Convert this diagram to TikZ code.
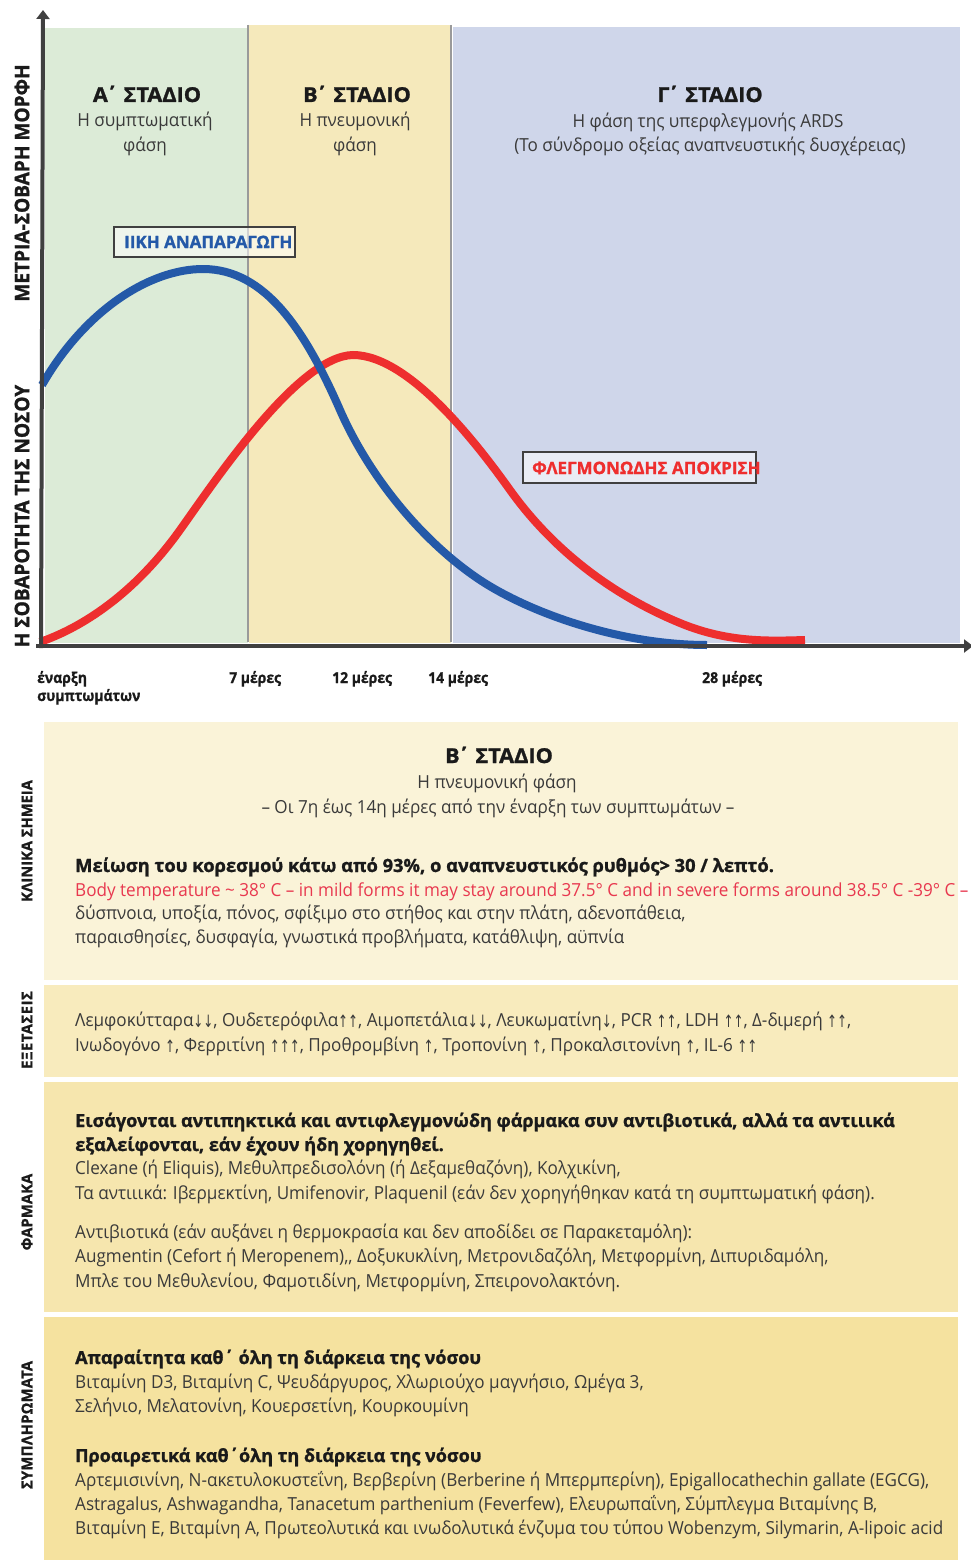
\documentclass[tikz,border=0pt]{standalone}
\usepackage{fontspec}
\setmainfont{Open Sans}
\newfontfamily\reg{Open Sans}[FakeStretch=0.95]
\newfontfamily\blk{Open Sans}[FakeStretch=1.0, BoldFeatures={FakeBold=1.2}]
\newfontfamily\hdb{Open Sans}[FakeStretch=1.06, BoldFeatures={FakeBold=1.2}]
\newfontfamily\wideblk{Open Sans}[FakeStretch=0.955, BoldFeatures={FakeBold=1.2}]
\newfontfamily\sideblk{Open Sans}[FakeStretch=0.98, BoldFeatures={FakeBold=1}]
\newfontfamily\xlb{Open Sans}[FakeStretch=0.93, BoldFeatures={FakeBold=1}]
\newfontfamily\arrowfont{DejaVu Sans}[FakeStretch=0.7]
\usetikzlibrary{arrows.meta}
\definecolor{bandgreen}{HTML}{DCEBD7}
\definecolor{bandyellow}{HTML}{F5E9BB}
\definecolor{bandblue}{HTML}{CFD6EA}
\definecolor{panelA}{HTML}{FAF3D8}
\definecolor{panelB}{HTML}{F8EBBD}
\definecolor{panelC}{HTML}{F6E6AE}
\definecolor{panelD}{HTML}{F5E29F}
\definecolor{axisgray}{HTML}{404040}
\definecolor{txtgray}{HTML}{3A3A3A}
\definecolor{txtdark}{HTML}{1A1A1A}
\definecolor{curveblue}{HTML}{2459A8}
\definecolor{curvered}{HTML}{EE2E2E}
\definecolor{pinkred}{HTML}{E8384F}
\definecolor{divgray}{HTML}{9A9A9A}
\newcommand{\myup}{\raisebox{-1.5pt}{\arrowfont\fontsize{17}{17}\selectfont ↑}}
\newcommand{\mydn}{\raisebox{-1.5pt}{\arrowfont\fontsize{17}{17}\selectfont ↓}}
\newcommand{\tns}{\kern-2.5pt΄}
\tikzset{
  body/.style={anchor=base west, inner sep=0pt, text=txtgray, font=\reg\fontsize{18}{20}\selectfont},
  boldl/.style={anchor=base west, inner sep=0pt, text=txtdark, font=\blk\bfseries\fontsize{18.3}{20}\selectfont},
  boldc/.style={anchor=base west, inner sep=0pt, text=txtdark, font=\blk\bfseries\fontsize{18}{20}\selectfont},
  headt/.style={anchor=base, inner sep=0pt, text=txtdark, font=\hdb\bfseries\fontsize{20.5}{22}\selectfont},
  heads/.style={anchor=base, inner sep=0pt, text=txtgray, font=\reg\fontsize{18}{20}\selectfont},
  xlab/.style={anchor=base west, inner sep=0pt, text=txtdark, font=\xlb\bfseries\fontsize{15}{16}\selectfont},
  ylab/.style={rotate=90, inner sep=0pt, text=txtdark, font=\wideblk\bfseries\fontsize{20}{22}\selectfont},
  sidelab/.style={rotate=90, inner sep=0pt, text=txtdark, font=\sideblk\bfseries\fontsize{15}{17}\selectfont},
  curve/.style={line width=8pt, line cap=butt},
  labbox/.style={draw=axisgray, line width=1.8pt, fill=white, fill opacity=0.55, inner sep=0pt},
  labtxt/.style={anchor=base west, inner sep=0pt, font=\blk\bfseries\fontsize{17}{19}\selectfont},
}
\begin{document}
\begin{tikzpicture}[x=1pt,y=-1pt]
\useasboundingbox (0,0) rectangle (971,1560);
\fill[white] (0,0) rectangle (971,1560);
% bands
\fill[bandgreen] (45,28) rectangle (248,643);
\fill[bandyellow] (249,25) rectangle (451,643);
\fill[bandblue] (453,27) rectangle (960,643);
\draw[divgray, line width=1.2pt] (248,25) -- (248,642);
\draw[divgray, line width=1.2pt] (451,25) -- (451,642);
% headings
\node[headt] (hA) at (147,102) {Α\tns{} ΣΤΑΔΙΟ};
\node[heads] (hA1) at (145,127) {Η συμπτωματική};
\node[heads] (hA2) at (145,151) {φάση};
\node[headt] (hB) at (357,102) {Β\tns{} ΣΤΑΔΙΟ};
\node[heads] (hB1) at (355,127) {Η πνευμονική};
\node[heads] (hB2) at (355,151) {φάση};
\node[headt] (hC) at (710,102) {Γ\tns{} ΣΤΑΔΙΟ};
\node[heads] (hC1) at (708,128) {Η φάση της υπερφλεγμονής ARDS};
\node[heads] (hC2) at (710,151) {(Το σύνδρομο οξείας αναπνευστικής δυσχέρειας)};
% curves
\draw[curve, curvered] (40,642) .. controls (75,630) and (130,600) .. (180,530)
  .. controls (215,481) and (298,356) .. (353,355)
  .. controls (410,355) and (480,448) .. (510,490)
  .. controls (545,539) and (600,590) .. (680,623)
  .. controls (728,643) and (770,641) .. (805,640);
\draw[curve, curveblue] (42,385) .. controls (85,310) and (150,269) .. (203,269)
  .. controls (265,269) and (305,330) .. (340,410)
  .. controls (368,474) and (420,540) .. (480,580)
  .. controls (530,613) and (620,645) .. (707,645);
% axes
\coordinate (origin) at (41,646);
\coordinate (ytop) at (43,10);
\coordinate (xend) at (973,646);
\draw[axisgray, line width=4pt, -{Triangle[length=9pt,width=13pt]}] (41,648) -- (ytop);
\draw[axisgray, line width=4pt, -{Triangle[length=9pt,width=13pt]}] (36,646) -- (xend);
% axis labels
\node[ylab] (yl1) at (22,183) {ΜΕΤΡΙΑ-ΣΟΒΑΡΗ ΜΟΡΦΗ};
\node[ylab] (yl2) at (22,516) {Η ΣΟΒΑΡΟΤΗΤΑ ΤΗΣ ΝΟΣΟΥ};
% curve labels
\node[labbox, minimum width=181pt, minimum height=30pt] (boxV) at (204.5,242) {};
\node[labtxt, text=curveblue] (labV) at (124,248) {ΙΙΚΗ ΑΝΑΠΑΡΑΓΩΓΗ};
\node[labbox, minimum width=233pt, minimum height=31pt] (boxI) at (639.5,467.5) {};
\node[labtxt, text=curvered] (labI) at (532,474) {ΦΛΕΓΜΟΝΩΔΗΣ ΑΠΟΚΡΙΣΗ};
% x labels
\node[xlab] (x0a) at (37,683) {έναρξη};
\node[xlab] (x0b) at (37,701) {συμπτωμάτων};
\node[xlab] (x7) at (229,683) {7 μέρες};
\node[xlab] (x12) at (332,683) {12 μέρες};
\node[xlab] (x14) at (428,683) {14 μέρες};
\node[xlab] (x28) at (702,683) {28 μέρες};
% panels
\fill[panelA] (44,722) rectangle (958,980);
\fill[panelB] (44,985) rectangle (958,1077);
\fill[panelC] (44,1082) rectangle (958,1312);
\fill[panelD] (44,1317) rectangle (958,1560);
\node[sidelab] (s1) at (27,841) {ΚΛΙΝΙΚΑ ΣΗΜΕΙΑ};
\node[sidelab] (s2) at (27,1030) {\addfontfeature{LetterSpace=4}ΕΞΕΤΑΣΕΙΣ};
\node[sidelab] (s3) at (27,1212) {\addfontfeature{LetterSpace=1}ΦΑΡΜΑΚΑ};
\node[sidelab] (s4) at (27,1425) {\addfontfeature{LetterSpace=2}ΣΥΜΠΛΗΡΩΜΑΤΑ};
% panel 1
\node[headt] (p1t) at (499,763) {Β\tns{} ΣΤΑΔΙΟ};
\node[heads] (p1s) at (497,788) {Η πνευμονική φάση};
\node[heads] (p1r) at (498,813) {– Οι 7η έως 14η μέρες από την έναρξη των συμπτωμάτων –};
\node[boldl] (p1a) at (75,872) {Μείωση του κορεσμού κάτω από 93\%, ο αναπνευστικός ρυθμός> 30 / λεπτό.};
\node[body, text=pinkred] (p1b) at (75,896) {Body temperature \textasciitilde{} 38° C – in mild forms it may stay around 37.5° C and in severe forms around 38.5° C -39° C –};
\node[body] (p1c) at (75,919) {δύσπνοια, υποξία, πόνος, σφίξιμο στο στήθος και στην πλάτη, αδενοπάθεια,};
\node[body] (p1d) at (75,943) {παραισθησίες, δυσφαγία, γνωστικά προβλήματα, κατάθλιψη, αϋπνία};
% panel 2
\node[body] (p2a) at (75,1026) {Λεμφοκύτταρα\mydn\mydn, Ουδετερόφιλα\myup\myup, Αιμοπετάλια\mydn\mydn, Λευκωματίνη\mydn, PCR \myup\myup, LDH \myup\myup, Δ-διμερή \myup\myup,};
\node[body] (p2b) at (75,1051) {Ινωδογόνο \myup, Φερριτίνη \myup\myup\myup, Προθρομβίνη \myup, Τροπονίνη \myup, Προκαλσιτονίνη \myup, IL-6 \myup\myup};
% panel 3
\node[boldc] (p3a) at (75,1127) {Εισάγονται αντιπηκτικά και αντιφλεγμονώδη φάρμακα συν αντιβιοτικά, αλλά τα αντιιικά};
\node[boldc] (p3b) at (75,1151) {εξαλείφονται, εάν έχουν ήδη χορηγηθεί.};
\node[body] (p3c) at (75,1174) {Clexane (ή Eliquis), Μεθυλπρεδισολόνη (ή Δεξαμεθαζόνη), Κολχικίνη,};
\node[body] (p3d) at (75,1199) {Τα αντιιικά: Ιβερμεκτίνη, Umifenovir, Plaquenil (εάν δεν χορηγήθηκαν κατά τη συμπτωματική φάση).};
\node[body] (p3e) at (75,1238) {Αντιβιοτικά (εάν αυξάνει η θερμοκρασία και δεν αποδίδει σε Παρακεταμόλη):};
\node[body] (p3f) at (75,1262) {Augmentin (Cefort ή Meropenem),, Δοξυκυκλίνη, Μετρονιδαζόλη, Μετφορμίνη, Διπυριδαμόλη,};
\node[body] (p3g) at (75,1287) {Μπλε του Μεθυλενίου, Φαμοτιδίνη, Μετφορμίνη, Σπειρονολακτόνη.};
% panel 4
\node[boldc] (p4a) at (75,1364) {Απαραίτητα καθ΄ όλη τη διάρκεια της νόσου};
\node[body] (p4b) at (75,1388) {Βιταμίνη D3, Βιταμίνη C, Ψευδάργυρος, Χλωριούχο μαγνήσιο, Ωμέγα 3,};
\node[body] (p4c) at (75,1412) {Σελήνιο, Μελατονίνη, Κουερσετίνη, Κουρκουμίνη};
\node[boldc] (p4d) at (75,1462) {Προαιρετικά καθ΄όλη τη διάρκεια της νόσου};
\node[body] (p4e) at (75,1486) {Αρτεμισινίνη, N-ακετυλοκυστεΐνη, Βερβερίνη (Berberine ή Μπερμπερίνη), Epigallocathechin gallate (EGCG),};
\node[body] (p4f) at (75,1510) {Astragalus, Ashwagandha, Tanacetum parthenium (Feverfew), Ελευρωπαΐνη, Σύμπλεγμα Βιταμίνης B,};
\node[body] (p4g) at (75,1534) {Βιταμίνη E, Βιταμίνη A,  Πρωτεολυτικά και ινωδολυτικά ένζυμα του τύπου Wobenzym, Silymarin, A-lipoic acid};
\end{tikzpicture}
\end{document}
